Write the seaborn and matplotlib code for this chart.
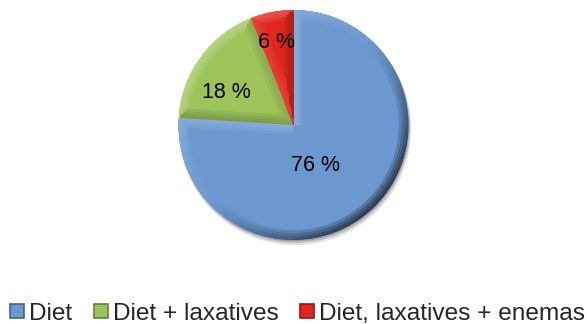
import numpy as np
import matplotlib
matplotlib.use("Agg")
import matplotlib.pyplot as plt
import seaborn as sns
from matplotlib.patches import Wedge, Polygon, Circle
from matplotlib.colors import to_rgb
from matplotlib.lines import Line2D

# Treatment shares (%)
categories = ["Diet", "Diet + laxatives", "Diet, laxatives + enemas"]
shares = [76, 18, 6]
slice_colors = ["#6b98cf", "#9dc45b", "#e0261d"]
# label placement inside each slice: radial distance and angular shift (degrees)
label_radius = [0.40, 0.65, 0.73]
label_shift = [-14, 10, 1]

sns.set_theme(style="white")
plt.rcParams["font.family"] = ["Liberation Sans", "DejaVu Sans"]

fig = plt.figure(figsize=(5.87, 3.24), dpi=100)
ax = fig.add_axes([293.5 / 587 - 115 / 587, 1 - 240 / 324, 230 / 587, 230 / 324])

wedges, texts = ax.pie(shares, colors=slice_colors, startangle=90,
                       counterclock=False, radius=1.0,
                       wedgeprops=dict(linewidth=0), center=(0, 0))
ax.set_xlim(-1, 1)
ax.set_ylim(-1, 1)
ax.set_aspect("equal")
ax.axis("off")
for w in wedges:
    w.set_zorder(1)

# soft drop shadow behind the pie
for k, a in [(0.035, 0.10), (0.022, 0.14), (0.01, 0.18)]:
    c = Circle((k * 0.4, -k), 1.0 + k * 0.3, color="black", alpha=a, lw=0, zorder=0)
    c.set_clip_on(False)
    ax.add_patch(c)

light = np.array([-1.0, 1.0]) / np.sqrt(2)


def shade(color, amount):
    c = np.array(to_rgb(color))
    if amount >= 0:
        return tuple(c + (1 - c) * amount)
    return tuple(c * (1 + amount))


# bevel: nested bands, widest/faintest first, narrowest/strongest last
bands = [(0.085, 0.35), (0.06, 0.65), (0.035, 0.9), (0.015, 1.0)]
for w, col in zip(wedges, slice_colors):
    t1, t2 = w.theta1, w.theta2
    for width, strength in bands:
        # outer arc
        steps = np.linspace(t1, t2, max(int((t2 - t1) / 2), 2) + 1)
        for a0, a1 in zip(steps[:-1], steps[1:]):
            am = np.radians((a0 + a1) / 2)
            n = np.array([np.cos(am), np.sin(am)])
            d = float(n @ light)
            amt = strength * (0.25 * d if d > 0 else 0.6 * d)
            seg = Wedge((0, 0), 1.0, a0, a1 + 0.3, width=width,
                        color=shade(col, amt), lw=0, zorder=2)
            seg.set_clip_path(w)
            ax.add_patch(seg)
        # radial edges
        for ang, sign in [(t1, 1), (t2, -1)]:
            r = np.radians(ang)
            u = np.array([np.cos(r), np.sin(r)])
            n = sign * np.array([np.sin(r), -np.cos(r)])
            d = float(n @ light)
            amt = strength * (0.28 * d if d > 0 else 0.3 * d)
            pts = [(0, 0), tuple(0.99 * u), tuple(0.99 * u - width * n), tuple(-width * n)]
            strip = Polygon(pts, closed=True, color=shade(col, amt), lw=0, zorder=2)
            strip.set_clip_path(w)
            ax.add_patch(strip)

# percentage labels
for w, v, rr, sh in zip(wedges, shares, label_radius, label_shift):
    mid = np.radians((w.theta1 + w.theta2) / 2 + sh)
    ax.text(rr * np.cos(mid), rr * np.sin(mid), f"{v} %", ha="center", va="center",
            fontsize=15.5, color="black", zorder=5)

handles = [Line2D([], [], marker="s", linestyle="none", markersize=9.5,
                  markerfacecolor=c, markeredgecolor=shade(c, -0.35), markeredgewidth=1.2)
           for c in slice_colors]
fig.legend(handles, categories, loc="lower left", bbox_to_anchor=(0.0, -0.033),
           ncol=3, frameon=False, fontsize=17.6, handlelength=0.6, handletextpad=0.2,
           columnspacing=0.85, borderaxespad=0.0)

fig.savefig("out.png", dpi=100)
